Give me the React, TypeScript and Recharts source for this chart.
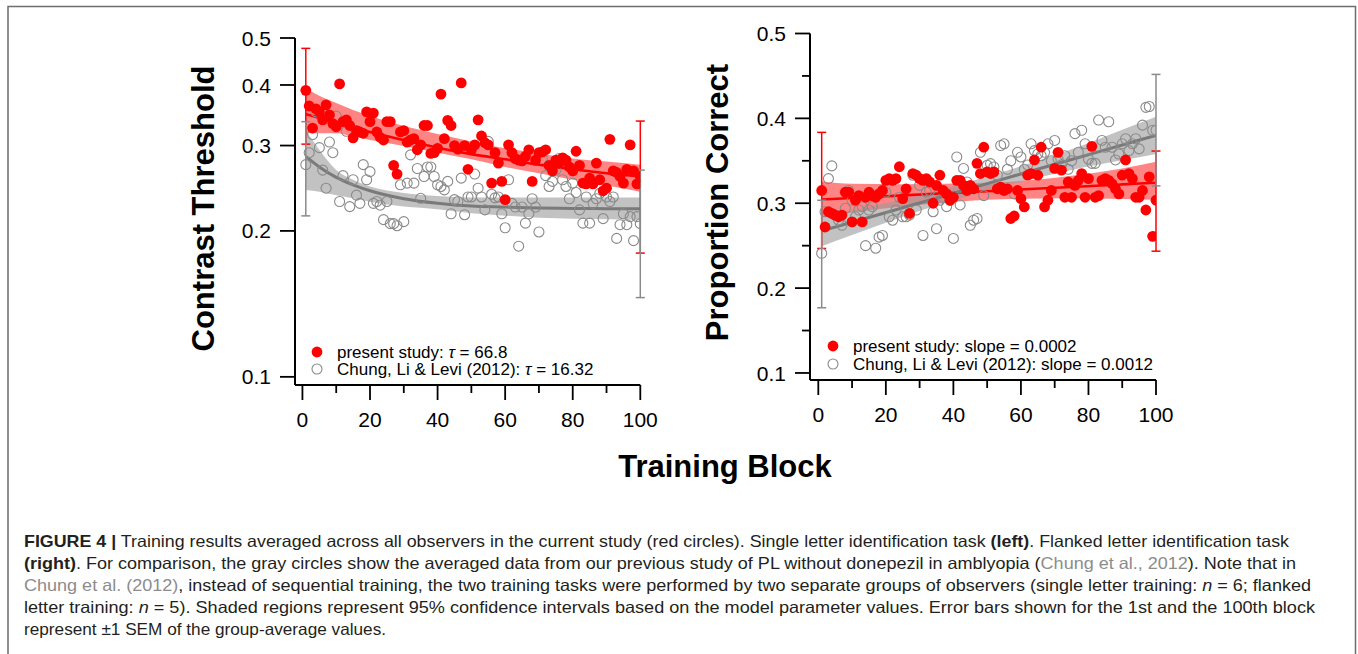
import React from 'react';
import { ComposedChart, Area, Line, Scatter, XAxis, YAxis, ErrorBar } from 'recharts';

const FONT = '"Liberation Sans", Arial, Helvetica, sans-serif';

// training blocks 1..100 (x categories)
const BLOCKS = Array.from({ length: 100 }, (_, i) => i + 1);

// left panel: contrast threshold per block
const LEFT_RED = [
  0.390, 0.362, 0.326, 0.357, 0.352, 0.339, 0.364, 0.347, 0.333, 0.328,
  0.402, 0.336, 0.339, 0.330, 0.311, 0.322, 0.320, 0.318, 0.352, 0.336,
  0.350, 0.320, 0.312, 0.308, 0.336, 0.336, 0.273, 0.262, 0.320, 0.322,
  0.305, 0.308, 0.310, 0.294, 0.301, 0.330, 0.330, 0.289, 0.290, 0.296,
  0.383, 0.310, 0.338, 0.330, 0.300, 0.295, 0.404, 0.300, 0.268, 0.294,
  0.301, 0.339, 0.314, 0.304, 0.301, 0.251, 0.290, 0.276, 0.253, 0.232,
  0.301, 0.290, 0.282, 0.280, 0.279, 0.285, 0.294, 0.253, 0.280, 0.290,
  0.291, 0.294, 0.273, 0.266, 0.280, 0.276, 0.283, 0.280, 0.271, 0.266,
  0.292, 0.273, 0.251, 0.250, 0.257, 0.250, 0.276, 0.255, 0.242, 0.245,
  0.309, 0.266, 0.264, 0.259, 0.251, 0.268, 0.301, 0.266, 0.250, 0.259,
];
const LEFT_GRAY = [
  0.274, 0.290, 0.316, 0.352, 0.297, 0.267, 0.245, 0.305, 0.290, 0.345,
  0.230, 0.260, 0.321, 0.2245, 0.255, 0.237, 0.228, 0.274, 0.255, 0.265,
  0.228, 0.230, 0.226, 0.211, 0.230, 0.207, 0.207, 0.205, 0.249, 0.209,
  0.251, 0.287, 0.251, 0.269, 0.2335, 0.259, 0.271, 0.271, 0.259, 0.249,
  0.247, 0.243, 0.253, 0.217, 0.232, 0.230, 0.257, 0.216, 0.235, 0.235,
  0.262, 0.245, 0.235, 0.221, 0.306, 0.238, 0.234, 0.235, 0.217, 0.203,
  0.255, 0.228, 0.224, 0.186, 0.224, 0.2075, 0.217, 0.233, 0.224, 0.199,
  0.282, 0.260, 0.247, 0.253, 0.267, 0.282, 0.255, 0.247, 0.233, 0.251,
  0.240, 0.221, 0.2075, 0.235, 0.2075, 0.228, 0.233, 0.239, 0.212, 0.235,
  0.230, 0.235, 0.193, 0.206, 0.217, 0.206, 0.214, 0.191, 0.214, 0.207,
];

// right panel: proportion correct per block
const RIGHT_RED = [
  0.315, 0.272, 0.290, 0.288, 0.286, 0.284, 0.286, 0.313, 0.313, 0.278,
  0.3035, 0.309, 0.278, 0.307, 0.313, 0.309, 0.307, 0.311, 0.315, 0.327,
  0.329, 0.327, 0.329, 0.343, 0.3055, 0.317, 0.288, 0.335, 0.333, 0.329,
  0.327, 0.329, 0.325, 0.300, 0.321, 0.333, 0.315, 0.311, 0.3035, 0.307,
  0.327, 0.327, 0.321, 0.315, 0.321, 0.317, 0.347, 0.335, 0.366, 0.337,
  0.335, 0.337, 0.317, 0.319, 0.315, 0.317, 0.282, 0.285, 0.315, 0.3055,
  0.2957, 0.333, 0.335, 0.351, 0.333, 0.366, 0.2957, 0.3035, 0.315, 0.341,
  0.360, 0.339, 0.307, 0.325, 0.307, 0.321, 0.327, 0.335, 0.307, 0.329,
  0.367, 0.307, 0.309, 0.327, 0.329, 0.327, 0.323, 0.317, 0.311, 0.333,
  0.351, 0.335, 0.329, 0.307, 0.307, 0.315, 0.292, 0.331, 0.261, 0.3035,
];
const RIGHT_GRAY = [
  0.241, 0.290, 0.329, 0.344, 0.286, 0.280, 0.274, 0.294, 0.315, 0.3035,
  0.284, 0.292, 0.296, 0.250, 0.292, 0.296, 0.247, 0.260, 0.262, 0.313,
  0.284, 0.280, 0.292, 0.307, 0.284, 0.284, 0.286, 0.333, 0.292, 0.321,
  0.262, 0.313, 0.315, 0.290, 0.270, 0.3035, 0.307, 0.296, 0.3035, 0.2585,
  0.3545, 0.298, 0.341, 0.325, 0.274, 0.280, 0.282, 0.360, 0.309, 0.3447,
  0.3467, 0.3427, 0.333, 0.368, 0.370, 0.340, 0.350, 0.311, 0.360, 0.3545,
  0.340, 0.345, 0.370, 0.362, 0.358, 0.356, 0.360, 0.370, 0.350, 0.374,
  0.352, 0.345, 0.356, 0.340, 0.350, 0.382, 0.360, 0.386, 0.370, 0.352,
  0.347, 0.347, 0.398, 0.374, 0.366, 0.396, 0.366, 0.351, 0.358, 0.370,
  0.376, 0.362, 0.370, 0.376, 0.364, 0.392, 0.413, 0.414, 0.386, 0.386,
];

// model fits and 95% bands (left: exponential, right: linear)
const LEFT_FIT_X = [1, 5, 10, 15, 20, 30, 40, 50, 60, 70, 80, 90, 100];
const LEFT_RED_FIT = [0.348, 0.342, 0.334, 0.327, 0.320, 0.308, 0.297, 0.288, 0.281, 0.274, 0.268, 0.263, 0.259];
const LEFT_RED_LO = [0.318, 0.318, 0.318, 0.313, 0.308, 0.2995, 0.290, 0.281, 0.271, 0.263, 0.255, 0.248, 0.241];
const LEFT_RED_HI = [0.394, 0.380, 0.367, 0.355, 0.345, 0.329, 0.317, 0.306, 0.296, 0.289, 0.282, 0.278, 0.274];
const LEFT_GRAY_FIT = [0.285, 0.271, 0.258, 0.249, 0.242, 0.233, 0.228, 0.225, 0.224, 0.223, 0.2225, 0.2223, 0.2221];
const LEFT_GRAY_LO = [0.243, 0.241, 0.237, 0.2335, 0.2297, 0.2245, 0.2217, 0.2175, 0.215, 0.213, 0.212, 0.2115, 0.211];
const LEFT_GRAY_HI = [0.323, 0.294, 0.267, 0.255, 0.247, 0.2395, 0.236, 0.2345, 0.2345, 0.2345, 0.2345, 0.2345, 0.2345];

const RIGHT_FIT_X = [1, 10, 25, 50, 75, 90, 100];
const RIGHT_RED_FIT = [0.3044, 0.3062, 0.3092, 0.3142, 0.3192, 0.3222, 0.3242];
const RIGHT_RED_LO = [0.2845, 0.289, 0.296, 0.304, 0.306, 0.305, 0.304];
const RIGHT_RED_HI = [0.326, 0.323, 0.3225, 0.324, 0.3325, 0.341, 0.349];
const RIGHT_GRAY_FIT = [0.2674, 0.2776, 0.2947, 0.3231, 0.3515, 0.3686, 0.380];
const RIGHT_GRAY_LO = [0.2494, 0.2626, 0.2842, 0.3146, 0.3393, 0.3506, 0.358];
const RIGHT_GRAY_HI = [0.2844, 0.2916, 0.3047, 0.3316, 0.3635, 0.3866, 0.402];

// +-1 SEM bars at the 1st and 100th block
const SEM_BLOCKS = [1, 100];
const LEFT_RED_SEM_LO = [0.302, 0.180];
const LEFT_RED_SEM_HI = [0.476, 0.337];
const LEFT_GRAY_SEM_LO = [0.2148, 0.1457];
const LEFT_GRAY_SEM_HI = [0.336, 0.267];
const RIGHT_RED_SEM_LO = [0.2467, 0.2435];
const RIGHT_RED_SEM_HI = [0.3835, 0.3615];
const RIGHT_GRAY_SEM_LO = [0.1768, 0.3204];
const RIGHT_GRAY_SEM_HI = [0.3035, 0.4518];

const X_TICKS = [0, 10, 20, 30, 40, 50, 60, 70, 80, 90, 100];
const LEFT_Y_TICKS = [0.1, 0.2, 0.3, 0.4, 0.5];
const RIGHT_Y_TICKS = [0.1, 0.15, 0.2, 0.25, 0.3, 0.35, 0.4, 0.45, 0.5];

const RED = '#ff0000';
const GRAY = '#8a8a8a';

const points = (vals: number[]) => BLOCKS.map((b, i) => ({ x: b, y: vals[i] }));
const semRows = (series: number[], lo: number[], hi: number[]) =>
  SEM_BLOCKS.map((b, i) => {
    const v = series[b - 1];
    return { x: b, y: v, err: [v - lo[i], hi[i] - v] };
  });
const fitRows = (xs: number[], rf: number[], rl: number[], rh: number[], gf: number[], gl: number[], gh: number[]) =>
  xs.map((x, i) => ({ x, rfit: rf[i], rband: [rl[i], rh[i]], gfit: gf[i], gband: [gl[i], gh[i]] }));

const XTick = ({ x, y, payload }: any) => {
  const v = payload.value;
  const major = v % 20 === 0;
  return (
    <g>
      <line x1={x} x2={x} y1={y} y2={y + (major ? 15 : 8)} stroke="#000" strokeWidth={1.8} />
      {major && (
        <text x={x} y={y + 42} textAnchor="middle" fontSize={21} fontFamily={FONT} fill="#000">
          {v}
        </text>
      )}
    </g>
  );
};

const YTick = ({ x, y, payload }: any) => {
  const v = payload.value;
  const major = Math.round(v * 100) % 10 === 0;
  return (
    <g>
      <line x1={x - (major ? 15 : 8)} x2={x} y1={y} y2={y} stroke="#000" strokeWidth={1.8} />
      {major && (
        <text x={x - 24} y={y} dy="0.36em" textAnchor="end" fontSize={21} fontFamily={FONT} fill="#000">
          {v}
        </text>
      )}
    </g>
  );
};

const RedDot = (p: any) => <circle cx={p.cx} cy={p.cy} r={5.4} fill={RED} />;
const GrayRing = (p: any) => <circle cx={p.cx} cy={p.cy} r={5} fill="none" stroke={GRAY} strokeWidth={1.1} />;
const NoShape = () => <g />;

const Panel = (props: any) => {
  const { fit, red, gray, redSem, graySem, xDomain, yDomain, yTicks, scale, margin, width } = props;
  return (
    <ComposedChart width={width} height={450} data={fit} margin={margin}>
      <XAxis
        dataKey="x"
        type="number"
        domain={xDomain}
        allowDataOverflow
        ticks={X_TICKS}
        interval={0}
        tick={<XTick />}
        tickLine={false}
        tickSize={0}
        tickMargin={0}
        height={40}
        axisLine={{ stroke: '#000', strokeWidth: 2 }}
      />
      <YAxis
        type="number"
        scale={scale}
        domain={yDomain}
        allowDataOverflow
        ticks={yTicks}
        interval={0}
        tick={<YTick />}
        tickLine={false}
        tickSize={0}
        tickMargin={0}
        width={60}
        axisLine={{ stroke: '#000', strokeWidth: 2 }}
      />
      <Area dataKey="rband" type="monotone" stroke="none" fill={RED} fillOpacity={0.48} isAnimationActive={false} />
      <Area dataKey="gband" type="monotone" stroke="none" fill="#9a9a9a" fillOpacity={0.6} isAnimationActive={false} />
      <Scatter data={gray} dataKey="y" shape={GrayRing} isAnimationActive={false} />
      <Scatter data={red} dataKey="y" shape={RedDot} isAnimationActive={false} />
      <Line dataKey="rfit" type="monotone" stroke={RED} strokeWidth={2.6} dot={false} isAnimationActive={false} />
      <Line dataKey="gfit" type="monotone" stroke="#7a7a7a" strokeWidth={3} dot={false} isAnimationActive={false} />
      <Scatter data={redSem} dataKey="y" shape={NoShape} isAnimationActive={false}>
        <ErrorBar dataKey="err" direction="y" width={4.5} stroke={RED} strokeWidth={1.5} isAnimationActive={false} />
      </Scatter>
      <Scatter data={graySem} dataKey="y" shape={NoShape} isAnimationActive={false}>
        <ErrorBar dataKey="err" direction="y" width={4.5} stroke={GRAY} strokeWidth={1.5} isAnimationActive={false} />
      </Scatter>
    </ComposedChart>
  );
};

const LINK = '#8c8c8c';

export default function App() {
  const leftFit = fitRows(LEFT_FIT_X, LEFT_RED_FIT, LEFT_RED_LO, LEFT_RED_HI, LEFT_GRAY_FIT, LEFT_GRAY_LO, LEFT_GRAY_HI);
  const rightFit = fitRows(RIGHT_FIT_X, RIGHT_RED_FIT, RIGHT_RED_LO, RIGHT_RED_HI, RIGHT_GRAY_FIT, RIGHT_GRAY_LO, RIGHT_GRAY_HI);

  return (
    <div style={{ position: 'absolute', left: 0, top: 0, width: 1358, height: 654, background: '#fff', overflow: 'hidden', fontFamily: FONT }}>
      <div style={{ position: 'absolute', left: 0, top: 0 }}>
        <Panel
          width={680}
          fit={leftFit}
          red={points(LEFT_RED)}
          gray={points(LEFT_GRAY)}
          redSem={semRows(LEFT_RED, LEFT_RED_SEM_LO, LEFT_RED_SEM_HI)}
          graySem={semRows(LEFT_GRAY, LEFT_GRAY_SEM_LO, LEFT_GRAY_SEM_HI)}
          xDomain={[-2.2, 100]}
          yDomain={[0.0962, 0.5]}
          yTicks={LEFT_Y_TICKS}
          scale="log"
          margin={{ top: 38, right: 39.7, bottom: 25, left: 235 }}
        />
      </div>
      <div style={{ position: 'absolute', left: 680, top: 0 }}>
        <Panel
          width={678}
          fit={rightFit}
          red={points(RIGHT_RED)}
          gray={points(RIGHT_GRAY)}
          redSem={semRows(RIGHT_RED, RIGHT_RED_SEM_LO, RIGHT_RED_SEM_HI)}
          graySem={semRows(RIGHT_GRAY, RIGHT_GRAY_SEM_LO, RIGHT_GRAY_SEM_HI)}
          xDomain={[-2.46, 100]}
          yDomain={[0.0917, 0.5]}
          yTicks={RIGHT_Y_TICKS}
          scale="linear"
          margin={{ top: 33.5, right: 202, bottom: 30, left: 70 }}
        />
      </div>

      <svg width={1358} height={654} style={{ position: 'absolute', left: 0, top: 0, pointerEvents: 'none' }} fontFamily={FONT}>
        <path d="M8 654 V6.5 H1355.5 V654" fill="none" stroke="#6e6e6e" strokeWidth={1.5} />

        <text transform="translate(214,208.5) rotate(-90)" textAnchor="middle" fontSize={31} fontWeight="bold" fill="#000">
          Contrast Threshold
        </text>
        <text transform="translate(728,202.5) rotate(-90)" textAnchor="middle" fontSize={31} fontWeight="bold" fill="#000">
          Proportion Correct
        </text>
        <text x={725} y={477} textAnchor="middle" fontSize={31} fontWeight="bold" fill="#000">
          Training Block
        </text>

        <circle cx={317} cy={352} r={5.4} fill={RED} />
        <circle cx={317} cy={369} r={5} fill="none" stroke={GRAY} strokeWidth={1.1} />
        <text x={337} y={358} fontSize={17} fill="#000">
          present study: <tspan fontStyle="italic">τ</tspan> = 66.8
        </text>
        <text x={337} y={375} fontSize={17} fill="#000">
          Chung, Li &amp; Levi (2012): <tspan fontStyle="italic">τ</tspan> = 16.32
        </text>

        <circle cx={833} cy={346} r={5.4} fill={RED} />
        <circle cx={833} cy={364} r={5} fill="none" stroke={GRAY} strokeWidth={1.1} />
        <text x={853} y={352} fontSize={17} fill="#000">
          present study: slope = 0.0002
        </text>
        <text x={853} y={370} fontSize={17} fill="#000">
          Chung, Li &amp; Levi (2012): slope = 0.0012
        </text>

        <g fontSize={16.5} fill="#231f20">
          <text x={24} y={547} textLength={1265} lengthAdjust="spacingAndGlyphs">
            <tspan fontWeight="bold">FIGURE 4 |</tspan>
            {' Training results averaged across all observers in the current study (red circles). Single letter identification task '}
            <tspan fontWeight="bold">(left)</tspan>
            {'. Flanked letter identification task'}
          </text>
          <text x={24} y={569} textLength={1272} lengthAdjust="spacingAndGlyphs">
            <tspan fontWeight="bold">(right)</tspan>
            {'. For comparison, the gray circles show the averaged data from our previous study of PL without donepezil in amblyopia ('}
            <tspan fill={LINK}>Chung et al., 2012</tspan>
            {'). Note that in'}
          </text>
          <text x={24} y={591} textLength={1287} lengthAdjust="spacingAndGlyphs">
            <tspan fill={LINK}>Chung et al. (2012)</tspan>
            {', instead of sequential training, the two training tasks were performed by two separate groups of observers (single letter training: '}
            <tspan fontStyle="italic">n</tspan>
            {' = 6; flanked'}
          </text>
          <text x={24} y={613} textLength={1291} lengthAdjust="spacingAndGlyphs">
            {'letter training: '}
            <tspan fontStyle="italic">n</tspan>
            {' = 5). Shaded regions represent 95% confidence intervals based on the model parameter values. Error bars shown for the 1st and the 100th block'}
          </text>
          <text x={24} y={635} textLength={362} lengthAdjust="spacingAndGlyphs">
            represent ±1 SEM of the group-average values.
          </text>
        </g>
      </svg>
    </div>
  );
}
